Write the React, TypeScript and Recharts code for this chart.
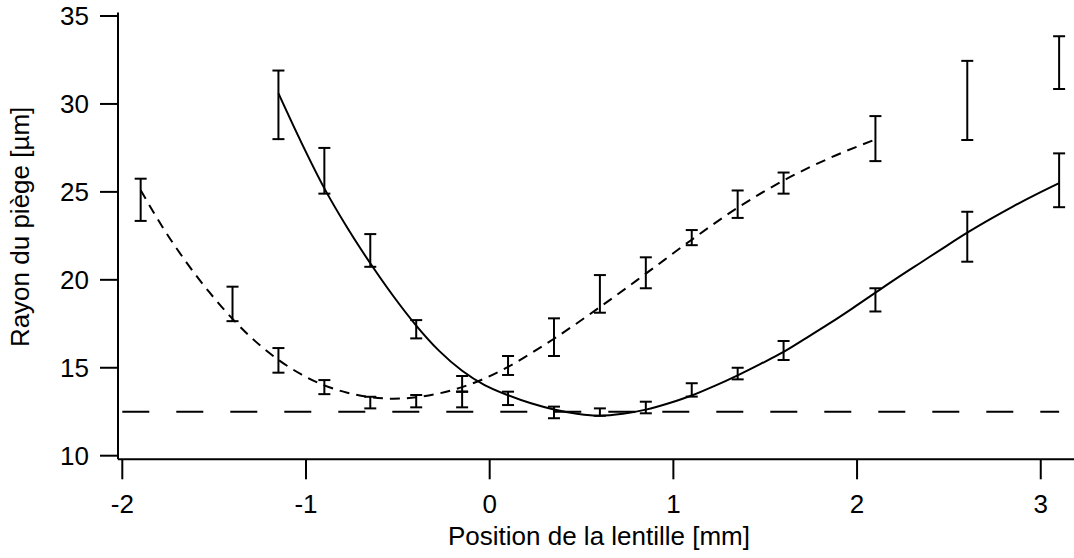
import React from 'react';
import { ComposedChart, Line, Scatter, ErrorBar, XAxis, YAxis, ReferenceLine, Label } from 'recharts';

// Axis ticks
const xTicks = [-2, -1, 0, 1, 2, 3];
const yTicks = [10, 15, 20, 25, 30, 35];

// Series 1 (dashed fit) measurements
const dashedPosX = [-1.9, -1.4, -1.15, -0.9, -0.65, -0.4, -0.15, 0.1, 0.35, 0.6, 0.85, 1.1, 1.35, 1.6, 2.1, 2.6, 3.1];
const dashedRadius = [24.55, 18.63, 15.42, 13.9, 13.02, 13.1, 14.08, 15.13, 16.74, 19.2, 20.4, 22.4, 24.3, 25.5, 28.03, 30.2, 32.35];
const dashedErr = [1.2, 0.98, 0.7, 0.4, 0.33, 0.35, 0.45, 0.54, 1.07, 1.07, 0.88, 0.43, 0.78, 0.6, 1.28, 2.25, 1.5];

// Series 2 (solid fit) measurements
const solidPosX = [-1.15, -0.9, -0.65, -0.4, -0.15, 0.1, 0.35, 0.6, 0.85, 1.1, 1.35, 1.6, 2.1, 2.6, 3.1];
const solidRadius = [29.95, 26.2, 21.67, 17.19, 13.2, 13.26, 12.46, 12.48, 12.74, 13.74, 14.67, 15.98, 18.86, 22.45, 25.66];
const solidErr = [1.95, 1.3, 0.93, 0.52, 0.45, 0.38, 0.33, 0.21, 0.33, 0.38, 0.33, 0.54, 0.66, 1.42, 1.53];

// Fit curves
const dashedFitX = [-1.9, -1.775, -1.65, -1.525, -1.4, -1.275, -1.15, -1.025, -0.9, -0.775, -0.65, -0.525, -0.4, -0.275, -0.15, -0.025, 0.1, 0.225, 0.35, 0.6, 0.85, 1.1, 1.35, 1.6, 1.85, 2.1];
const dashedFitY = [25.1, 22.9, 20.98, 19.28, 17.78, 16.5, 15.45, 14.62, 14.0, 13.58, 13.33, 13.24, 13.32, 13.54, 13.9, 14.4, 15.05, 15.82, 16.65, 18.45, 20.35, 22.28, 24.1, 25.65, 26.92, 27.98];

const solidFitX = [-1.15, -1.025, -0.9, -0.775, -0.65, -0.525, -0.4, -0.275, -0.15, -0.025, 0.1, 0.225, 0.35, 0.475, 0.6, 0.725, 0.85, 0.975, 1.1, 1.225, 1.35, 1.475, 1.6, 1.725, 1.85, 1.975, 2.1, 2.225, 2.35, 2.475, 2.6, 2.725, 2.85, 2.975, 3.1];
const solidFitY = [30.6, 27.8, 25.2, 22.96, 20.94, 19.08, 17.4, 15.96, 14.83, 14.0, 13.44, 12.98, 12.63, 12.39, 12.27, 12.38, 12.62, 12.98, 13.42, 13.97, 14.57, 15.22, 15.9, 16.7, 17.52, 18.38, 19.27, 20.15, 21.0, 21.85, 22.68, 23.45, 24.18, 24.86, 25.5];

// Horizontal reference level
const waistLevel = 12.5;
const waistSpanX = [-2, 3.1];

const xDomain = [-2.0234, 3.181];
const yDomain = [9.795, 35.2];

const pts = (xs: number[], ys: number[]) => xs.map((x, i) => ({ x, y: ys[i] }));
const ptsErr = (xs: number[], ys: number[], es: number[]) => xs.map((x, i) => ({ x, y: ys[i], err: es[i] }));

const dashedData = ptsErr(dashedPosX, dashedRadius, dashedErr);
const solidData = ptsErr(solidPosX, solidRadius, solidErr);
const dashedFit = pts(dashedFitX, dashedFitY);
const solidFit = pts(solidFitX, solidFitY);

const FONT = 'Liberation Sans, Arial, Helvetica, sans-serif';
const tickStyle = { fill: '#000', fontSize: 26, fontFamily: FONT };
const noShape = () => <g />;

export default function App() {
  return (
    <div style={{ position: 'absolute', left: 0, top: 0, background: '#fff' }}>
      <ComposedChart width={1074} height={558} margin={{ top: 12.5, right: 0, bottom: 0, left: 0 }}>
        <XAxis
          xAxisId="top"
          orientation="top"
          type="number"
          dataKey="x"
          domain={xDomain}
          allowDataOverflow
          height={0}
          tick={false}
          tickLine={false}
          axisLine={{ stroke: '#000', strokeWidth: 2 }}
        />
        <XAxis
          type="number"
          dataKey="x"
          domain={xDomain}
          allowDataOverflow
          ticks={xTicks}
          interval={0}
          height={98.7}
          tickSize={20}
          tickMargin={15.5}
          tick={tickStyle}
          tickLine={{ stroke: '#000', strokeWidth: 2 }}
          axisLine={{ stroke: '#000', strokeWidth: 2 }}
        >
          <Label
            content={(props: any) => {
              const vb = props.viewBox || { x: 118, y: 459.3, width: 956 };
              return (
                <text x={vb.x + vb.width / 2 + 3} y={vb.y + 86} textAnchor="middle" fill="#000" fontSize={26} fontFamily={FONT}>
                  Position de la lentille [mm]
                </text>
              );
            }}
          />
        </XAxis>
        <YAxis
          type="number"
          dataKey="y"
          domain={yDomain}
          allowDataOverflow
          ticks={yTicks}
          interval={0}
          width={118}
          tickSize={18}
          tickMargin={11}
          tick={tickStyle}
          tickLine={{ stroke: '#000', strokeWidth: 2 }}
          axisLine={{ stroke: '#000', strokeWidth: 2 }}
        >
          <Label
            content={(props: any) => {
              const vb = props.viewBox || { x: 0, y: 12.5, height: 446.8 };
              const cx = 29.5;
              const cy = vb.y + vb.height / 2 - 9;
              return (
                <text x={cx} y={cy} transform={`rotate(-90 ${cx} ${cy})`} textAnchor="middle" fill="#000" fontSize={26} fontFamily={FONT}>
                  Rayon du piège [µm]
                </text>
              );
            }}
          />
        </YAxis>

        <ReferenceLine
          segment={[{ x: waistSpanX[0], y: waistLevel }, { x: waistSpanX[1], y: waistLevel }]}
          stroke="#000"
          strokeWidth={2}
          strokeDasharray="27 27"
        />

        <Line
          data={dashedFit}
          dataKey="y"
          type="monotone"
          stroke="#000"
          strokeWidth={2}
          strokeDasharray="10 7"
          dot={false}
          activeDot={false}
          isAnimationActive={false}
        />
        <Line
          data={solidFit}
          dataKey="y"
          type="monotone"
          stroke="#000"
          strokeWidth={2}
          dot={false}
          activeDot={false}
          isAnimationActive={false}
        />

        <Scatter data={dashedData} dataKey="y" shape={noShape} isAnimationActive={false}>
          <ErrorBar dataKey="err" direction="y" width={6} stroke="#000" strokeWidth={2} isAnimationActive={false} />
        </Scatter>
        <Scatter data={solidData} dataKey="y" shape={noShape} isAnimationActive={false}>
          <ErrorBar dataKey="err" direction="y" width={6} stroke="#000" strokeWidth={2} isAnimationActive={false} />
        </Scatter>
      </ComposedChart>
    </div>
  );
}
